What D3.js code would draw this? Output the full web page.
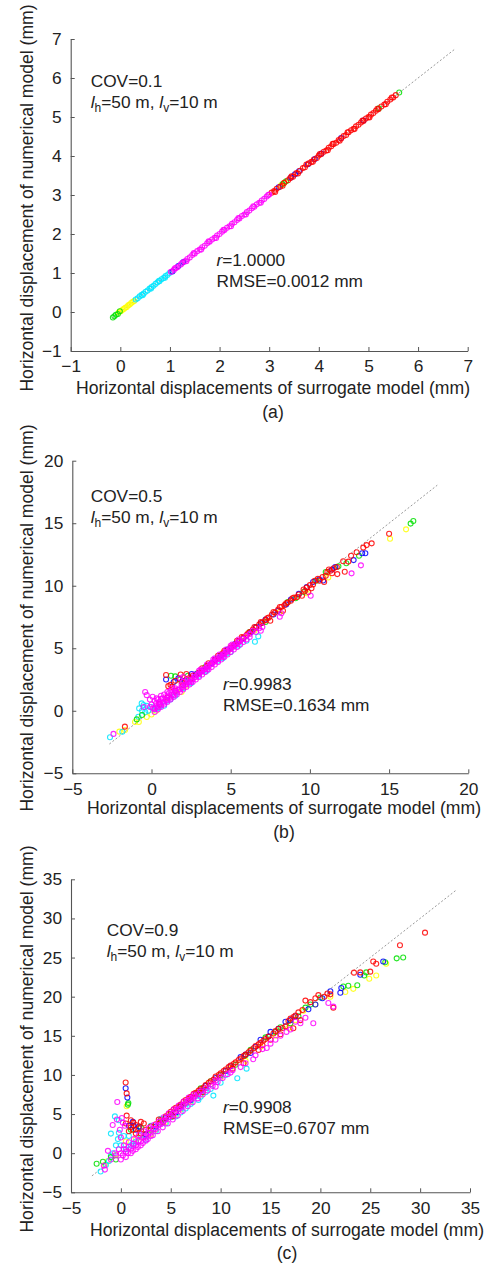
<!DOCTYPE html>
<html>
<head>
<meta charset="utf-8">
<script src="https://cdn.jsdelivr.net/npm/d3@7"></script>
<style>
  body { margin: 0; background: #fff; }
  svg text { font-family: "Liberation Sans", Arial, sans-serif; fill: #222; }
</style>
</head>
<body>
<svg id="chart" width="485" height="1264"></svg>
<script>
/* ---------------- data ---------------- */
// panel (a) COV=0.1
var aGreen = [[-0.15,-0.14],[-0.12,-0.11],[-0.09,-0.07],[-0.05,-0.05],[-0.01,0.02],[3.27,3.28],[3.34,3.35],[5.21,5.22],[5.62,5.63]];
var aYellow = [[-0.03,-0.01],[0.01,0.02],[0.04,0.05],[0.07,0.08],[0.1,0.11],[0.13,0.13],[0.16,0.17],[0.19,0.19],[0.22,0.23],[0.25,0.26],[0.28,0.28],[3.24,3.25],[3.31,3.32]];
var aCyan = [[0.31,0.32],[0.35,0.35],[0.39,0.4],[0.43,0.44],[0.47,0.47],[0.51,0.52],[0.55,0.55],[0.59,0.6],[0.63,0.64],[0.67,0.67],[0.71,0.72],[0.75,0.76],[0.79,0.79],[0.83,0.84],[0.87,0.87],[0.91,0.92],[0.95,0.95],[0.99,1.0],[0.45,0.43],[0.62,0.6],[0.78,0.8],[0.9,0.88]];
var aBlue = [[1.05,1.04],[1.17,1.18],[1.27,1.28],[3.19,3.2],[3.44,3.45],[3.52,3.53],[3.6,3.61],[3.78,3.79],[3.92,3.92],[4.05,4.06],[4.45,4.46],[4.9,4.91]];
var aMagenta = [[1.02,1.03],[1.08,1.08],[1.12,1.13],[1.15,1.15],[1.22,1.22],[1.25,1.26],[1.3,1.3],[1.35,1.36],[1.4,1.4],[1.45,1.46],[1.5,1.5],[1.55,1.56],[1.6,1.6],[1.65,1.66],[1.7,1.7],[1.75,1.76],[1.8,1.8],[1.85,1.86],[1.9,1.9],[1.95,1.96],[2.0,2.0],[2.05,2.06],[2.1,2.1],[2.15,2.16],[2.2,2.2],[2.25,2.26],[2.3,2.3],[2.35,2.36],[2.4,2.4],[2.45,2.46],[2.5,2.5],[2.55,2.56],[2.6,2.6],[2.65,2.66],[2.7,2.7],[2.75,2.76],[2.8,2.8],[2.85,2.86],[2.9,2.9],[2.95,2.96],[3.0,3.01],
  [1.1,1.12],[1.33,1.3],[1.48,1.51],[1.63,1.6],[1.78,1.81],[1.93,1.9],[2.08,2.11],[2.23,2.2],[2.38,2.41],[2.53,2.5],[2.68,2.71],[2.83,2.8],[2.98,3.0]];
var aRed = [[3.05,3.06],[3.1,3.1],[3.15,3.16],[3.22,3.21],[3.3,3.31],[3.38,3.38],[3.42,3.43],[3.48,3.47],[3.55,3.56],[3.62,3.62],[3.68,3.69],[3.72,3.71],[3.8,3.81],[3.85,3.85],[3.9,3.91],[3.96,3.95],[4.0,4.01],[4.05,4.05],[4.1,4.11],[4.15,4.14],[4.2,4.21],[4.25,4.25],[4.3,4.31],[4.35,4.34],[4.4,4.41],[4.45,4.45],[4.5,4.51],[4.55,4.54],[4.6,4.61],[4.65,4.66],[4.7,4.7],[4.75,4.76],[4.8,4.8],[4.85,4.86],[4.9,4.9],[4.95,4.96],[5.0,5.0],[5.05,5.06],[5.1,5.1],[5.15,5.16],[5.2,5.2],[5.26,5.27],[5.32,5.32],[5.38,5.39],[5.44,5.45],[5.5,5.5],[5.55,5.56],
  [3.12,3.08],[3.27,3.24],[3.45,3.48],[3.58,3.55],[3.75,3.78],[3.88,3.85],[4.02,4.05],[4.18,4.15],[4.28,4.31],[4.42,4.39],[4.58,4.61],[4.72,4.69],[4.88,4.91],[5.02,4.99],[5.18,5.21],[5.35,5.33],[5.47,5.5]];
var aTicks = [-1, 0, 1, 2, 3, 4, 5, 6, 7];
var aRefLine = [-0.15, 6.75];

// panel (b) COV=0.5
var bYellow = [[-1.04,-0.9],[-0.8,-0.9],[-2.03,-1.67],[-1.67,-1.54],[16.07,14.51],[15.06,13.76],[11.16,10.66],[9.8,9.4],[8.1,7.9],[1.9,1.5],[2.2,2.0],[0.3,0.0],[0.0,-0.3],[-0.3,-0.5],[4.8,4.7],[6.5,6.4]];
var bCyan = [[-2.62,-2.12],[-1.84,-1.68],[-0.62,0.59],[-0.78,0.19],[-0.3,0.4],[-0.5,0.46],[-0.83,-0.48],[-0.2,0.0],[0.0,0.3],[0.2,0.1],[0.4,0.2],[3.38,3.12],[4.75,4.59],[6.53,5.52],[6.74,5.95],[3.0,2.8],[2.0,1.8],[4.2,4.0],[5.0,4.7],[1.0,0.8],[0.5,0.3],
  [1.5,1.2],[2.5,2.2],[3.5,3.2],[4.5,4.2],[5.5,5.2],[6.0,5.6],[0.8,0.4],[1.2,0.9],[-0.4,-0.1],[-0.6,0.0]];
var bGreen = [[1.23,2.8],[1.5,2.75],[2.3,2.8],[-0.93,-0.69],[-0.6,-0.34],[8.6,8.7],[9.1,9.0],[10.4,10.4],[11.8,11.55],[13.1,12.4],[12.3,11.8],[16.36,14.97],[16.53,15.18],[5.6,5.6],[7.2,7.1],[2.9,3.0],[4.2,4.2],
  [1.8,2.5],[3.4,3.5],[6.2,6.3],[9.6,9.5],[11.0,11.1]];
var bBlue = [[0.92,2.5],[1.4,2.3],[2.54,2.94],[1.7,2.6],[2.1,2.4],[3.2,3.2],[3.8,3.8],[4.4,4.45],[5.3,5.35],[6.3,6.3],[6.9,7.0],[7.7,7.7],[8.5,8.5],[9.3,9.35],[10.2,10.3],[10.84,10.42],[11.4,11.3],[11.6,11.5],[12.76,12.05],[13.3,12.6],[13.5,12.6],
  [2.8,2.9],[4.0,4.1],[4.8,4.9],[5.8,5.8],[6.6,6.7],[7.2,7.3],[8.0,8.0],[8.8,8.9],[9.8,9.9],[10.6,10.5]];
var bRed = [[5.2,5.25],[5.5,5.55],[5.8,5.85],[6.0,6.05],[6.2,6.3],[6.4,6.5],[6.6,6.65],[6.8,6.9],[7.0,7.05],[7.2,7.25],[7.4,7.45],[7.6,7.7],[7.8,7.85],[8.0,8.1],[8.2,8.3],[8.4,8.45],[8.6,8.65],[8.8,8.8],[9.0,9.05],[9.3,9.3],[9.6,9.7],[9.8,9.85],[10.0,10.05],[10.2,10.1],[10.5,10.55],[10.8,10.7],[11.1,11.1],[11.3,11.2],[11.5,11.4],[11.7,11.5],[11.73,10.93],[12.1,11.96],[12.2,11.12],[12.43,11.93],[12.6,12.4],[12.95,12.68],[13.37,13.05],[13.58,13.25],[13.9,13.39],[15.0,14.16],[7.5,7.2],[8.3,8.0],[9.5,9.2],[10.1,9.8],[11.0,10.8],[0.92,2.86],[1.2,2.07],[1.06,1.97],[1.84,2.9],[2.2,2.94],[1.5,2.4],[2.5,2.6],[1.9,2.3],[1.3,1.9],[0.5,0.55],[1.0,1.05],[1.5,1.6],[2.0,2.05],[2.5,2.55],[3.0,3.05],[3.5,3.6],[4.0,4.05],[4.5,4.6],[5.0,5.05],[-1.68,-1.27],
  [2.2,2.5],[2.6,2.8],[3.2,3.4],[3.6,3.8],[4.2,4.4],[4.6,4.8],[5.4,5.6],[5.7,5.9],[6.1,6.2],[6.5,6.7],[6.9,7.1],[7.3,7.4],[7.7,7.9],[8.1,8.3],[8.5,8.6],[8.9,9.0],[9.2,9.1],[9.7,9.6],[10.3,10.4],[10.6,10.4],[11.2,11.3],[11.4,11.0],[10.9,10.3],[9.9,9.5]];
var bMagenta = [[0.1,0.2],[0.2,0.15],[0.3,0.35],[0.4,0.3],[0.5,0.5],[0.6,0.45],[0.7,0.7],[0.8,0.65],[0.9,0.9],[1.0,0.85],[1.1,1.1],[1.2,1.05],[1.3,1.3],[1.4,1.25],[1.5,1.5],[1.6,1.45],[1.7,1.7],[1.8,1.7],[1.9,1.9],[2.0,1.9],[2.1,2.1],[2.2,2.1],[2.3,2.3],[2.4,2.3],[2.5,2.5],[2.6,2.5],[2.7,2.7],[2.8,2.7],[2.9,2.9],[3.0,2.95],[3.1,3.1],[3.2,3.15],[3.3,3.3],[3.4,3.35],[3.5,3.5],[3.6,3.55],[3.7,3.7],[3.8,3.75],[3.9,3.9],[4.0,3.95],[4.1,4.1],[4.2,4.15],[4.3,4.3],[4.4,4.35],[4.5,4.5],[4.6,4.55],[4.7,4.7],[4.8,4.75],[4.9,4.9],[5.0,4.95],[5.1,5.1],[5.2,5.15],[5.3,5.3],[5.4,5.35],[5.5,5.5],[5.6,5.6],[5.8,5.75],[6.0,6.0],[6.2,6.15],[6.4,6.4],[0.5,0.7],[1.0,1.2],[1.5,1.8],[2.0,2.3],[2.5,2.3],[3.0,3.2],[3.5,3.3],[4.0,4.2],[4.5,4.3],[5.0,5.2],[6.6,6.3],[6.8,6.6],[-0.4,1.5],[-0.3,1.25],[0.07,1.12],[0.32,0.99],[0.2,0.8],[-0.1,0.9],[0.6,0.95],[1.0,1.5],[1.3,1.8],[1.8,2.6],[2.0,2.7],[-2.4,-1.85],[-0.5,0.3],[8.1,7.52],[8.2,7.8],[10.05,9.2],[12.63,10.99],[13.22,11.63],[6.9,6.4],[7.0,6.7],
  [0.2,-0.1],[0.4,0.1],[0.6,0.3],[0.8,0.5],[1.0,0.7],[1.2,0.9],[1.4,1.1],[1.6,1.3],[1.8,1.5],[2.0,1.7],[2.2,1.9],[2.4,2.1],[2.6,2.3],[2.8,2.5],[3.0,2.7],[3.2,2.9],[3.4,3.1],[3.6,3.3],[3.8,3.5],[4.0,3.7],[4.2,3.9],[4.4,4.1],[4.6,4.3],[4.8,4.5],[5.0,4.7],[5.2,4.9],[5.4,5.1],[5.6,5.3],[5.8,5.5],[6.0,5.7],[6.2,5.9],[0.3,0.6],[0.7,1.0],[1.1,1.4],[1.5,1.7],[1.9,2.1],[2.3,2.5],[2.7,2.9],[3.1,3.3],[3.5,3.7],[3.9,4.1],[4.3,4.5],[4.7,4.9],[5.1,5.3],[5.5,5.7],[-0.1,0.3],[0.0,0.5],[0.4,0.9],[0.8,1.3],[1.2,1.6],[0.6,1.2]];
var bTicks = [-5, 0, 5, 10, 15, 20];
var bRefLine = [-2.66, 18.04];

// panel (c) COV=0.9
var cYellow = [[0.58,6.0],[-1.3,-1.0],[-0.5,-0.2],[3.0,2.4],[4.5,4.0],[6.0,5.6],[8.0,7.5],[12.5,11.8],[15.5,15.0],[18.3,18.2],[23.3,21.0],[22.5,20.6],[25.6,22.7],[26.6,24.2],[24.9,22.3],[1.5,1.8],[10.0,9.6],[16.8,16.0],
  [2.0,2.0],[3.5,3.0],[5.5,5.0],[7.0,6.6],[9.0,8.8],[11.0,10.8],[14.0,13.6],[17.5,17.0],[19.5,19.0],[21.0,20.0],[0.5,1.5],[-1.6,-1.5]];
var cCyan = [[-2.03,-2.35],[-1.5,-1.5],[-0.5,1.0],[-1.0,-0.3],[0.0,1.0],[0.5,0.5],[1.0,1.0],[1.5,1.5],[2.0,2.3],[3.0,3.5],[4.0,4.4],[-0.6,4.7],[-0.2,2.6],[7.77,6.8],[9.27,7.36],[8.5,7.8],[11.67,9.58],[12.6,10.8],[10.5,10.0],[8.0,7.2],[5.0,4.6],[6.0,5.2],[-0.3,1.8],[0.3,2.2],
  [2.5,1.7],[3.5,2.8],[4.5,3.8],[5.5,4.7],[6.5,5.7],[7.0,6.3],[9.0,8.2],[10.0,9.0],[-1.2,-1.0],[-0.8,0.0],[0.8,2.2],[1.2,1.2],[-1.0,2.5],[-0.2,4.2]];
var cGreen = [[0.75,6.4],[0.7,6.2],[-2.43,-1.36],[-1.8,-1.1],[-1.0,-0.5],[2.0,3.3],[6.5,6.4],[9.0,9.2],[11.5,11.3],[14.5,14.8],[16.0,16.1],[17.0,16.6],[17.8,17.5],[19.0,19.0],[22.3,21.3],[22.8,21.4],[23.7,21.46],[24.4,22.7],[27.65,24.9],[28.3,25.0],[26.5,24.4],[24.6,23.1],
  [3.0,3.0],[4.0,3.9],[5.0,5.0],[7.5,7.5],[8.0,8.3],[10.0,10.0],[12.5,12.5],[13.0,13.2],[15.5,15.5],[18.5,18.6],[20.0,19.9],[1.0,3.0],[-0.5,-0.8]];
var cBlue = [[0.48,8.3],[0.65,7.1],[1.25,3.5],[1.5,3.0],[1.8,3.4],[5.5,5.2],[7.0,6.8],[8.5,8.6],[10.5,10.5],[12.0,12.3],[14.0,14.5],[15.0,15.5],[16.5,16.8],[18.8,18.4],[20.2,19.8],[21.0,20.7],[22.1,21.1],[24.0,22.8],[26.3,24.5],[13.0,12.8],[17.0,17.0],[19.5,19.0],[22.0,20.5],
  [2.5,2.4],[3.5,3.4],[4.5,4.5],[6.0,6.0],[8.0,8.0],[9.5,9.6],[11.0,11.1],[12.5,12.6],[13.5,13.6],[14.8,14.9],[15.8,15.9],[17.5,17.5],[0.8,3.5],[1.2,4.0]];
var cRed = [[0.48,9.03],[0.58,7.64],[0.58,4.8],[1.25,3.9],[1.0,3.3],[1.5,3.6],[2.0,4.0],[0.8,2.8],[1.0,4.2],[3.5,3.7],[4.0,4.2],[4.5,4.7],[5.0,5.3],[5.5,5.8],[6.0,6.2],[6.5,6.8],[7.0,7.2],[7.5,7.7],[8.0,8.2],[8.5,8.7],[9.0,9.2],[9.5,9.8],[10.0,10.2],[10.5,10.7],[11.0,11.2],[11.5,11.6],[12.0,12.1],[12.5,12.6],[13.0,13.1],[13.5,13.7],[14.0,14.1],[14.5,14.6],[15.0,14.5],[15.5,15.6],[16.0,15.2],[16.5,16.2],[17.0,17.2],[17.29,15.97],[17.5,17.6],[18.0,17.0],[18.5,19.5],[19.5,19.8],[20.4,20.0],[20.7,20.4],[21.3,18.6],[23.37,23.07],[24.0,23.1],[25.0,23.2],[25.3,24.5],[25.6,24.2],[27.98,26.57],[30.49,28.18],[16.2,16.0],[18.2,18.3],[12.3,11.5],[13.8,13.2],
  [2.5,3.0],[3.0,3.4],[3.8,4.3],[4.2,4.0],[4.8,5.0],[5.3,5.6],[5.8,6.0],[6.3,6.6],[6.8,7.0],[7.3,7.6],[7.8,8.0],[8.3,8.4],[8.8,9.0],[9.3,9.4],[9.8,10.0],[10.3,10.5],[10.8,11.0],[11.3,11.4],[11.8,11.9],[12.3,12.4],[12.8,12.9],[13.3,13.4],[13.8,13.9],[14.3,14.4],[14.8,14.9],[15.3,15.3],[15.8,15.9],[16.8,16.9],[17.3,17.4],[17.8,18.0],[19.0,19.3],[19.8,20.2],[21.0,20.3],[14.2,13.8],[11.2,10.8],[8.2,7.8],[5.2,4.7],[2.0,2.5],[1.5,2.5],[1.2,3.0],[0.5,3.8],[1.8,3.2],[2.3,3.8]];
var cMagenta = [[-0.5,-0.3],[0,0],[0.3,0.5],[0.5,0.2],[0.8,0.8],[1.0,0.6],[1.3,1.2],[1.5,1.0],[1.8,1.6],[2.0,1.5],[2.3,2.1],[2.5,2.0],[2.8,2.6],[3.0,2.6],[3.3,3.1],[3.5,3.1],[3.8,3.6],[4.0,3.7],[4.3,4.1],[4.5,4.3],[4.8,4.6],[5.0,4.8],[5.3,5.1],[5.5,5.4],[5.8,5.6],[6.0,5.8],[6.3,6.2],[6.5,6.4],[6.8,6.8],[7.0,6.9],[7.3,7.2],[7.5,7.3],[7.8,7.6],[8.0,7.9],[8.5,8.3],[9.0,8.8],[9.5,9.3],[10.0,9.8],[0.5,-0.5],[1.0,0.0],[1.5,0.5],[2.0,1.0],[0.0,-0.8],[2.5,1.6],[3,2.2],[-0.36,6.54],[-0.82,3.6],[-0.4,4.3],[0.2,3.9],[0.1,4.5],[-1.3,0.3],[-1.6,-2.1],[-1.7,-1.6],[13.27,12.01],[14.62,13.45],[16.6,15.5],[19.29,16.6],[21.3,18.73],[20.8,19.2],[15.5,14.5],[12.0,11.0],[17.5,16.8],[18.5,17.3],[11.0,10.3],[9.5,8.5],
  [0.2,-0.3],[0.7,0.0],[1.2,0.3],[1.7,0.8],[2.2,1.3],[2.7,1.8],[3.2,2.3],[3.7,2.8],[4.2,3.3],[4.7,3.8],[5.2,4.3],[5.7,4.8],[6.2,5.4],[6.7,6.0],[7.2,6.5],[7.7,7.0],[8.2,7.5],[8.7,8.0],[9.2,8.6],[9.7,9.1],[10.2,9.6],[10.7,10.1],[11.2,10.6],[-0.2,0.5],[0.3,1.0],[0.8,1.4],[1.3,1.8],[1.8,2.3],[2.3,2.8],[2.8,3.2],[3.3,3.6],[3.8,4.0],[4.3,4.6],[4.8,5.1],[5.3,5.6],[5.8,6.1],[6.3,6.6],[6.8,7.1],[7.3,7.5],[-0.6,0.0],[-1.0,-0.8],[0.0,2.0],[0.4,3.5],[-0.1,3.0],[12.5,11.5],[13.5,12.5],[14.2,13.3],[15.0,14.0],[16.0,15.0],[17.0,15.8],[18.0,16.6]];
var cTicks = [-5, 0, 5, 10, 15, 20, 25, 30, 35];
var cRefLine = [-2.9, 33.7];

var seriesColors = { yellow: '#ffff00', cyan: '#00e5ff', green: '#00e000', blue: '#0000ff', red: '#ff0000', magenta: '#ff00ff' };

/* ---------------- layout ---------------- */
var panels = [
  { tag: '(a)', left: 70.7, right: 467.7, top: 39, bottom: 351, domain: [-1, 7], ticks: aTicks, refLine: aRefLine,
    series: [['yellow', aYellow], ['cyan', aCyan], ['green', aGreen], ['blue', aBlue], ['red', aRed], ['magenta', aMagenta]],
    cov: '0.1', r: '1.0000', rmse: '0.0012', covX: 90.7, covY: 87, statX: 216.5, statY: 266, titleX: 273, titleY: 394, tagY: 418, yTitleY: 198 },
  { tag: '(b)', left: 72.3, right: 468.3, top: 460.7, bottom: 773.3, domain: [-5, 20], ticks: bTicks, refLine: bRefLine,
    series: [['yellow', bYellow], ['cyan', bCyan], ['green', bGreen], ['blue', bBlue], ['red', bRed], ['magenta', bMagenta]],
    cov: '0.5', r: '0.9983', rmse: '0.1634', covX: 90.7, covY: 502, statX: 223, statY: 689.5, titleX: 284, titleY: 814, tagY: 838, yTitleY: 618 },
  { tag: '(c)', left: 71, right: 470, top: 879.3, bottom: 1192.3, domain: [-5, 35], ticks: cTicks, refLine: cRefLine,
    series: [['yellow', cYellow], ['cyan', cCyan], ['green', cGreen], ['blue', cBlue], ['red', cRed], ['magenta', cMagenta]],
    cov: '0.9', r: '0.9908', rmse: '0.6707', covX: 106.7, covY: 935.5, statX: 223, statY: 1113, titleX: 287, titleY: 1236, tagY: 1259, yTitleY: 1039 }
];

var svg = d3.select('#chart');
var fontSize = 17.3;
var titleSize = 17.6;

panels.forEach(function(p) {
  var x = d3.scaleLinear().domain(p.domain).range([p.left, p.right]);
  var y = d3.scaleLinear().domain(p.domain).range([p.bottom, p.top]);
  var g = svg.append('g');

  // axes, ticks pointing inward
  var xAxis = g.append('g')
      .attr('transform', 'translate(0,' + p.bottom + ')')
      .call(d3.axisBottom(x).tickValues(p.ticks).tickSizeInner(-4).tickSizeOuter(0).tickPadding(9));
  var yAxis = g.append('g')
      .attr('transform', 'translate(' + p.left + ',0)')
      .call(d3.axisLeft(y).tickValues(p.ticks).tickSizeInner(-4).tickSizeOuter(0).tickPadding(9));
  [xAxis, yAxis].forEach(function(ax) {
    ax.select('.domain').attr('stroke', '#555').attr('stroke-width', 1.1);
    ax.selectAll('.tick line').attr('stroke', '#555');
    ax.selectAll('.tick text').attr('font-size', fontSize).attr('font-family', '"Liberation Sans", Arial, sans-serif').attr('fill', '#222');
  });

  // 1:1 reference line
  g.append('line')
      .attr('x1', x(p.refLine[0])).attr('y1', y(p.refLine[0]))
      .attr('x2', x(p.refLine[1])).attr('y2', y(p.refLine[1]))
      .attr('stroke', '#999').attr('stroke-width', 1).attr('stroke-dasharray', '2,2');

  // scatter
  p.series.forEach(function(s) {
    g.append('g').selectAll('circle')
        .data(s[1])
        .enter()
        .append('circle')
        .attr('cx', function(d) { return x(d[0]); })
        .attr('cy', function(d) { return y(d[1]); })
        .attr('r', 2.5)
        .attr('fill', 'none')
        .attr('stroke', seriesColors[s[0]])
        .attr('stroke-opacity', 0.85)
        .attr('stroke-width', 1.1);
  });

  // annotations
  g.append('text').attr('x', p.covX).attr('y', p.covY).attr('font-size', fontSize).text('COV=' + p.cov);
  var t2 = g.append('text').attr('x', p.covX).attr('y', p.covY + 21).attr('font-size', fontSize);
  t2.append('tspan').attr('font-style', 'italic').text('l');
  t2.append('tspan').attr('font-size', 12).attr('dy', 4).text('h');
  t2.append('tspan').attr('dy', -4).text('=50 m, ');
  t2.append('tspan').attr('font-style', 'italic').text('l');
  t2.append('tspan').attr('font-size', 12).attr('dy', 4).text('v');
  t2.append('tspan').attr('dy', -4).text('=10 m');

  var t3 = g.append('text').attr('x', p.statX).attr('y', p.statY).attr('font-size', fontSize);
  t3.append('tspan').attr('font-style', 'italic').text('r');
  t3.append('tspan').text('=' + p.r);
  g.append('text').attr('x', p.statX).attr('y', p.statY + 21).attr('font-size', fontSize).text('RMSE=' + p.rmse + ' mm');

  // titles
  g.append('text').attr('x', p.titleX).attr('y', p.titleY).attr('text-anchor', 'middle').attr('font-size', titleSize)
      .text('Horizontal displacements of surrogate model (mm)');
  g.append('text').attr('transform', 'translate(33,' + p.yTitleY + ') rotate(-90)').attr('text-anchor', 'middle').attr('font-size', titleSize)
      .text('Horizontal displacement of numerical model (mm)');
  g.append('text').attr('x', p.titleX).attr('y', p.tagY).attr('text-anchor', 'middle').attr('font-size', titleSize).text(p.tag);
});
</script>
</body>
</html>
